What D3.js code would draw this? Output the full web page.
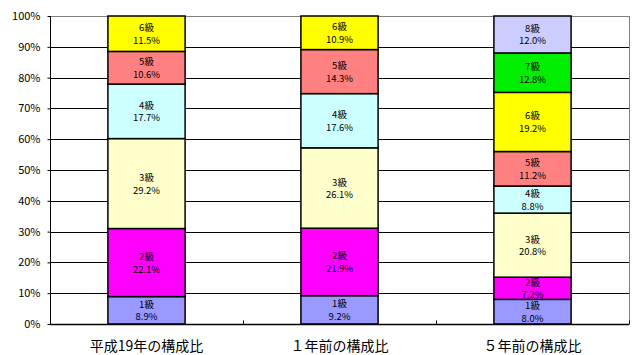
<!DOCTYPE html>
<html>
<head>
<meta charset="utf-8">
<script src="https://cdn.jsdelivr.net/npm/d3@7"></script>
<style>
  html, body { margin: 0; padding: 0; background: #fff; }
  svg { display: block; }
</style>
</head>
<body>
<div id="chart"></div>
<script>
// Composition of grades per period (percent)
const categories = ['平成19年の構成比', '１年前の構成比', '５年前の構成比']
const grades = ['1級', '2級', '3級', '4級', '5級', '6級', '7級', '8級']
const values2007 = [8.9, 22.1, 29.2, 17.7, 10.6, 11.5, 0, 0]
const values1yr = [9.2, 21.9, 26.1, 17.6, 14.3, 10.9, 0, 0]
const values5yr = [8.0, 7.2, 20.8, 8.8, 11.2, 19.2, 12.8, 12.0]
const yTicks = [0, 10, 20, 30, 40, 50, 60, 70, 80, 90, 100]
const gradeColors = ['#9999FF', '#FF00FF', '#FFFFCC', '#CCFFFF', '#FF8080', '#FFFF00', '#00EE00', '#CCCCFF']

const width = 640
const height = 355
const margin = { top: 16, right: 11, bottom: 31, left: 50 }
const FONT = '"Noto Sans CJK JP", "DejaVu Sans", sans-serif'

const rows = [values2007, values1yr, values5yr].map((vals, i) => {
  const row = { cat: categories[i] }
  grades.forEach((g, j) => { row[g] = vals[j] })
  return row
})

const series = d3.stack().keys(grades)(rows)

const x = d3.scaleBand()
  .domain(categories)
  .range([margin.left, width - margin.right])
  .padding(0)

const y = d3.scaleLinear()
  .domain([0, 100])
  .range([height - margin.bottom, margin.top])

const barW = x.bandwidth() * 0.4

const svg = d3.select('#chart')
  .append('svg')
  .attr('width', width)
  .attr('height', height)

// Gridlines
svg.append('g').attr('class', 'grid-y')
  .selectAll('line')
  .data(yTicks.filter(d => d > 0))
  .join('line')
  .attr('x1', margin.left).attr('x2', width - margin.right)
  .attr('y1', d => Math.round(y(d)) + 0.5).attr('y2', d => Math.round(y(d)) + 0.5)
  .attr('stroke', d => d === 100 ? '#808080' : '#000')
  .attr('stroke-width', 1)

// Right border of plot area
svg.append('line')
  .attr('x1', width - margin.right + 0.5).attr('x2', width - margin.right + 0.5)
  .attr('y1', y(100)).attr('y2', y(0))
  .attr('stroke', '#808080').attr('stroke-width', 1)

// Bars
const segG = svg.append('g').attr('class', 'bars')
series.forEach((s, gi) => {
  s.forEach((d, ci) => {
    const v = d[1] - d[0]
    if (!v) return
    const cx = x(categories[ci]) + x.bandwidth() / 2
    const y0 = y(d[0]), y1 = y(d[1])
    segG.append('rect')
      .attr('x', cx - barW / 2)
      .attr('y', y1)
      .attr('width', barW)
      .attr('height', y0 - y1)
      .attr('fill', gradeColors[gi])
      .attr('stroke', '#000')
      .attr('stroke-width', 1.5)
  })
})

// Segment labels (grade + share)
const labG = svg.append('g').attr('class', 'labels')
  .attr('font-family', FONT).attr('font-size', '9.5px').attr('fill', '#000')
  .attr('text-anchor', 'middle')
series.forEach((s, gi) => {
  s.forEach((d, ci) => {
    const v = d[1] - d[0]
    if (!v) return
    const cx = x(categories[ci]) + x.bandwidth() / 2
    const cy = (y(d[0]) + y(d[1])) / 2
    labG.append('text')
      .attr('x', cx).attr('y', cy - 6.5)
      .attr('dominant-baseline', 'central')
      .text(grades[gi])
    labG.append('text')
      .attr('x', cx).attr('y', cy + 6)
      .attr('dominant-baseline', 'central')
      .text(v.toFixed(1) + '%')
  })
})

// Y axis
svg.append('g')
  .attr('class', 'axis-y')
  .attr('transform', `translate(${margin.left + 0.5},0)`)
  .call(d3.axisLeft(y).tickValues(yTicks).tickFormat(d => d + '%').tickSize(3).tickPadding(7))
  .call(g => {
    g.select('.domain').attr('stroke', '#000').attr('d', `M0,${y(100)}V${y(0)}`)
    g.selectAll('.tick line').attr('stroke', '#000')
    g.selectAll('.tick text')
      .attr('fill', '#000').attr('font-size', '11px')
      .attr('font-family', FONT)
  })

// X axis
const xAxis = svg.append('g')
  .attr('class', 'axis-x')
  .attr('transform', `translate(0,${Math.round(y(0)) + 0.5})`)
xAxis.append('line')
  .attr('x1', margin.left).attr('x2', width - margin.right)
  .attr('stroke', '#000').attr('stroke-width', 1.5)
xAxis.selectAll('.cat-tick')
  .data(categories.slice(1).map(c => x(c)).concat([width - margin.right]))
  .join('line')
  .attr('class', 'cat-tick')
  .attr('x1', d => d + 0.5).attr('x2', d => d + 0.5)
  .attr('y1', 0).attr('y2', -4)
  .attr('stroke', '#000')
xAxis.selectAll('.cat-label')
  .data(categories)
  .join('text')
  .attr('class', 'cat-label')
  .attr('x', d => x(d) + x.bandwidth() / 2)
  .attr('y', 26)
  .attr('text-anchor', 'middle')
  .attr('font-family', FONT).attr('font-size', '14px').attr('fill', '#000')
  .text(d => d)
</script>
</body>
</html>
